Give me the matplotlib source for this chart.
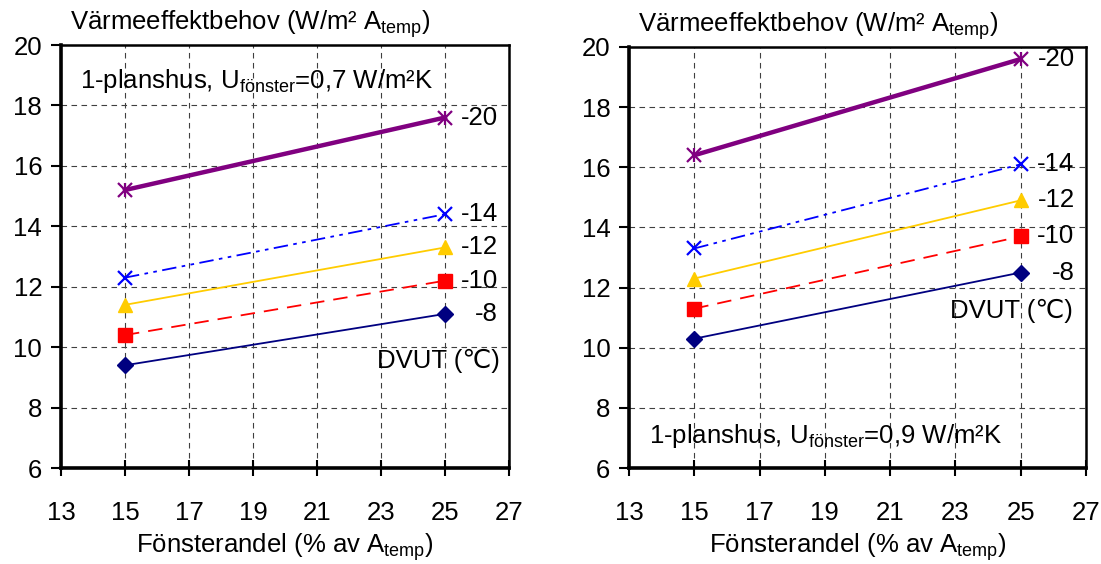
import numpy as np
import matplotlib
matplotlib.use("Agg")
import matplotlib.pyplot as plt

plt.rcParams['font.family'] = ['Liberation Sans', 'DejaVu Sans']
plt.rcParams['mathtext.default'] = 'regular'

# Data
fonsterandel = [15, 25]
dvut = ['-8', '-10', '-12', '-14', '-20']
u07 = {
    '-8': [9.4, 11.1],
    '-10': [10.4, 12.2],
    '-12': [11.4, 13.3],
    '-14': [12.3, 14.4],
    '-20': [15.2, 17.6],
}
u09 = {
    '-8': [10.3, 12.5],
    '-10': [11.3, 13.7],
    '-12': [12.3, 14.9],
    '-14': [13.3, 16.1],
    '-20': [16.4, 19.6],
}
xticks = [13, 15, 17, 19, 21, 23, 25, 27]
yticks = [6, 8, 10, 12, 14, 16, 18, 20]

styles = {
    '-8': dict(color='#000080', lw=1.3, marker='D', ms=8, ls='-'),
    '-10': dict(color='#FF0000', lw=1.3, marker='s', ms=10, dashes=(8, 5)),
    '-12': dict(color='#FFCC00', lw=1.3, marker='^', ms=10, ls='-'),
    '-14': dict(color='#0000FF', lw=1.3, marker='x', ms=10, mew=1.6,
                dashes=(8, 3, 2, 3, 2, 3)),
    '-20': dict(color='#800080', lw=3.2, marker='x', ms=10, mew=1.6, ls='-'),
}

fs = 18.5
fig = plt.figure(figsize=(11.01, 5.64), dpi=100)
ax1 = fig.add_axes([0.0554, 0.1702, 0.4069, 0.75])
ax2 = fig.add_axes([0.5713, 0.1702, 0.4151, 0.7465])


def draw(ax, data, note, note_xy, dvut_xy):
    for k in dvut:
        ax.plot(fonsterandel, data[k], **styles[k], zorder=3)
        if k == '-20':
            # asterisk-like marker: x plus vertical bar
            ax.plot(fonsterandel, data[k], ls='none', marker='|', ms=10,
                    mew=1.6, color=styles[k]['color'], zorder=3)
        ax.text(26.65, data[k][1], k, ha='right', va='center', fontsize=fs)
    ax.set_xlim(13, 27)
    ax.set_ylim(6, 20)
    ax.set_xticks(xticks)
    ax.set_yticks(yticks)
    ax.grid(True, color='#404040', lw=0.8, dashes=(5, 4))
    ax.tick_params(axis='x', direction='inout', length=12, width=1.5,
                   labelsize=fs, pad=18)
    ax.tick_params(axis='y', direction='out', length=7, width=1.5,
                   labelsize=fs, pad=6.5)
    for s in ax.spines.values():
        s.set_linewidth(1.8)
    ax.spines['left'].set_linewidth(2.6)
    ax.spines['bottom'].set_linewidth(2.6)
    ax.set_xlabel('Fönsterandel (% av A$_{temp}$)', fontsize=fs, labelpad=4.5)
    ax.text(0.02, 1.035, 'Värmeeffektbehov (W/m² A$_{temp}$)',
            transform=ax.transAxes, fontsize=fs, va='baseline', ha='left')
    ax.text(note_xy[0], note_xy[1], note, transform=ax.transAxes,
            fontsize=fs, va='baseline', ha='left')
    ax.text(dvut_xy[0], dvut_xy[1], 'DVUT (℃)', transform=ax.transAxes,
            fontsize=fs, va='baseline', ha='right')


draw(ax1, u07, '1-planshus, U$_{fönster}$=0,7 W/m²K', (0.042, 0.898),
     (0.98, 0.236))
draw(ax2, u09, '1-planshus, U$_{fönster}$=0,9 W/m²K', (0.044, 0.059),
     (0.972, 0.356))

fig.savefig('out.png', dpi=100)
